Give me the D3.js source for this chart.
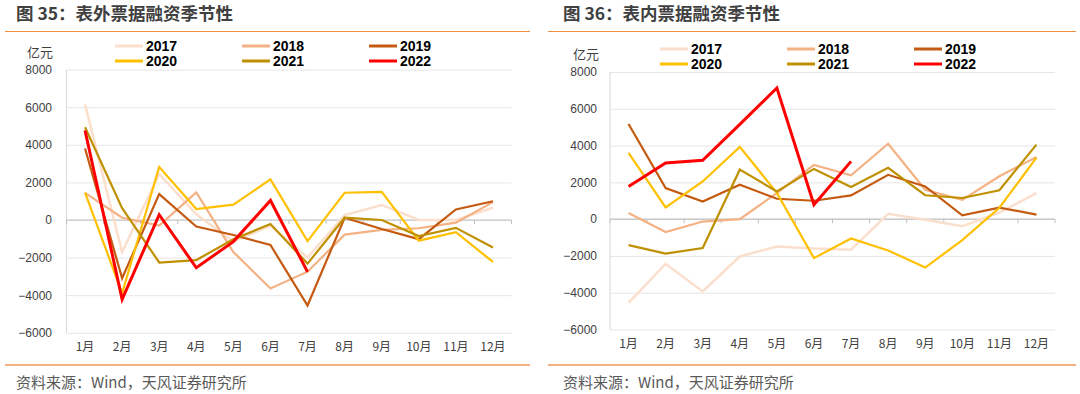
<!DOCTYPE html>
<html>
<head>
<meta charset="utf-8">
<script src="https://cdn.jsdelivr.net/npm/d3@7"></script>
<style>
  body { margin: 0; background: #fff; }
  text { font-family: "Liberation Sans", "Noto Sans CJK SC", sans-serif; }
</style>
</head>
<body>
<div id="chart"></div>
<script>
// months and years
const months = ["1月","2月","3月","4月","5月","6月","7月","8月","9月","10月","11月","12月"];
const years = ["2017","2018","2019","2020","2021","2022"];
const yTicks = [-6000, -4000, -2000, 0, 2000, 4000, 6000, 8000];

// 表外票据融资 (亿元)
const off2017 = [6150, -1700, 2450, 300, -1150, -300, -2000, 260, 800, 0, 0, 650];
const off2018 = [1440, 120, -290, 1470, -1700, -3640, -2750, -780, -530, -440, -140, 950];
const off2019 = [3800, -3100, 1380, -350, -800, -1330, -4550, 120, -480, -1020, 560, 1000];
const off2020 = [1460, -3900, 2820, 580, 820, 2160, -1120, 1450, 1500, -1100, -650, -2230];
const off2021 = [4930, 630, -2260, -2130, -1030, -210, -2320, 120, 0, -850, -420, -1460];
const off2022 = [4760, -4220, 280, -2540, -1150, 1040, -2760];

// 表内票据融资 (亿元)
const in2017 = [-4550, -2430, -3930, -2030, -1490, -1600, -1660, 290, -30, -390, 360, 1410];
const in2018 = [330, -700, -130, 0, 1420, 2950, 2380, 4100, 1600, 1050, 2330, 3380];
const in2019 = [5170, 1690, 960, 1870, 1110, 1000, 1290, 2410, 1780, 210, 630, 250];
const in2020 = [3600, 640, 2050, 3930, 1430, -2120, -1050, -1700, -2630, -1140, 620, 3340];
const in2021 = [-1410, -1870, -1570, 2690, 1510, 2730, 1750, 2790, 1300, 1150, 1570, 4050];
const in2022 = [1780, 3050, 3200, 5150, 7130, 790, 3140];

const colors = ["#FBDFCC", "#F4B183", "#C55A11", "#FFC000", "#BF9000", "#FF0000"];
const widths = [2.5, 2.2, 2.2, 2.2, 2.2, 3];

const width = 1080, height = 394;

const svg = d3.select("#chart")
    .append("svg")
    .attr("width", width)
    .attr("height", height);

function drawPanel(p) {
    let g = svg.append("g");

    // title + rules
    g.append("text")
        .attr("x", p.titleX)
        .attr("y", 20)
        .style("font-size", "17.5px")
        .style("font-weight", "bold")
        .style("fill", "#404040")
        .style("font-family", "'Noto Sans CJK SC', sans-serif")
        .text(p.title);
    g.append("line")
        .attr("x1", p.ruleX0).attr("x2", p.ruleX1)
        .attr("y1", 31.5).attr("y2", 31.5)
        .attr("stroke", "#F08C3C").attr("stroke-width", 1.2);
    g.append("line")
        .attr("x1", p.ruleX0).attr("x2", p.ruleX1)
        .attr("y1", 365).attr("y2", 365)
        .attr("stroke", "#F4B183").attr("stroke-width", 2);
    g.append("text")
        .attr("x", p.titleX)
        .attr("y", 388)
        .style("font-size", "15px")
        .style("fill", "#595959")
        .style("font-family", "'Noto Sans CJK SC', sans-serif")
        .text("资料来源：Wind，天风证券研究所");

    let x = d3.scaleBand()
        .domain(months)
        .range([p.left, p.right]);

    let y = d3.scaleLinear()
        .domain([-6000, 8000])
        .range([p.bottom, p.top]);

    // grid
    g.append("g")
        .attr("transform", `translate(${p.left},0)`)
        .call(d3.axisLeft(y).tickValues(yTicks).tickSize(-(p.right - p.left)).tickFormat(""))
        .call(a => a.select(".domain").remove())
        .selectAll("line")
        .attr("stroke", "#E6E6E6");

    // y axis line
    g.append("line")
        .attr("x1", p.left).attr("x2", p.left)
        .attr("y1", p.top).attr("y2", p.bottom)
        .attr("stroke", "#D9D9D9");

    // y labels
    g.append("g")
        .attr("transform", `translate(${p.left},0)`)
        .call(d3.axisLeft(y).tickValues(yTicks).tickSize(0).tickPadding(p.left - p.labelX).tickFormat(d3.format("d")))
        .call(a => a.select(".domain").remove())
        .selectAll("text")
        .style("font-size", "12px")
        .style("fill", "#404040");

    // zero line with boundary ticks
    g.append("line")
        .attr("x1", p.left).attr("x2", p.right)
        .attr("y1", y(0)).attr("y2", y(0))
        .attr("stroke", "#BFBFBF").attr("stroke-width", 1.2);
    g.selectAll(".btick")
        .data(months.map(m => x(m)).concat([p.right]))
        .enter()
        .append("line")
        .attr("x1", d => d).attr("x2", d => d)
        .attr("y1", y(0)).attr("y2", y(0) + 4)
        .attr("stroke", "#BFBFBF");

    // x labels
    g.append("g")
        .attr("transform", `translate(0,${p.bottom})`)
        .call(d3.axisBottom(x).tickSize(0).tickPadding(10))
        .call(a => a.select(".domain").remove())
        .selectAll("text")
        .style("font-size", "12px")
        .style("fill", "#404040")
        .style("font-family", "'Noto Sans CJK SC', sans-serif");

    // unit
    g.append("text")
        .attr("x", p.unitX)
        .attr("y", p.unitY)
        .style("text-anchor", "middle")
        .style("font-size", "13px")
        .style("fill", "#404040")
        .style("font-family", "'Noto Sans CJK SC', sans-serif")
        .text("亿元");

    // lines
    let line = d3.line()
        .x((d, i) => x(months[i]) + x.bandwidth() / 2)
        .y(d => y(d));

    p.series.forEach(function(s, k) {
        g.append("path")
            .datum(s)
            .attr("fill", "none")
            .attr("stroke", colors[k])
            .attr("stroke-width", widths[k])
            .attr("stroke-linejoin", "miter")
            .attr("d", line);
    });

    // legend
    years.forEach(function(yr, k) {
        let col = k % 3, row = Math.floor(k / 3);
        let lx = p.legX[col], ly = p.legY + row * 15;
        g.append("line")
            .attr("x1", lx).attr("x2", lx + 28)
            .attr("y1", ly).attr("y2", ly)
            .attr("stroke", colors[k])
            .attr("stroke-width", 3);
        g.append("text")
            .attr("x", lx + 31)
            .attr("y", ly + 5)
            .style("font-size", "14px")
            .style("font-weight", "bold")
            .style("fill", "#000")
            .text(yr);
    });
}

drawPanel({
    title: "图 35：表外票据融资季节性",
    titleX: 16, ruleX0: 5, ruleX1: 530,
    left: 66.5, right: 511.5, top: 69.6, bottom: 332.8,
    labelX: 52, unitX: 40, unitY: 57,
    legX: [115, 242, 369], legY: 46,
    series: [off2017, off2018, off2019, off2020, off2021, off2022]
});

drawPanel({
    title: "图 36：表内票据融资季节性",
    titleX: 563, ruleX0: 548, ruleX1: 1076,
    left: 610, right: 1055, top: 72, bottom: 329.5,
    labelX: 597, unitX: 586, unitY: 59,
    legX: [660, 787, 914], legY: 49,
    series: [in2017, in2018, in2019, in2020, in2021, in2022]
});
</script>
</body>
</html>
